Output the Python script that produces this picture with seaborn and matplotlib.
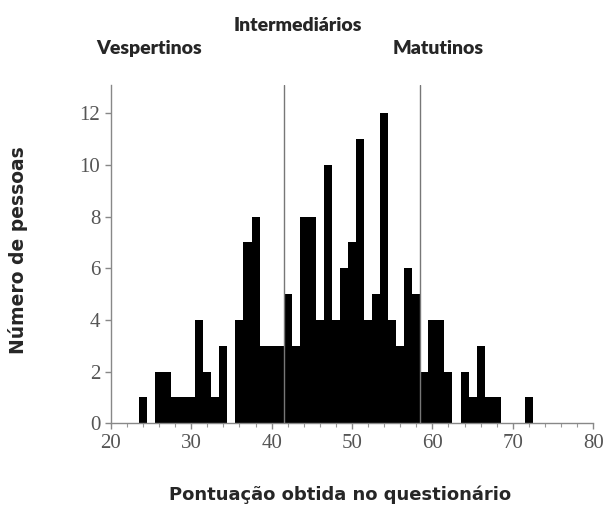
import numpy as np
import pandas as pd
import matplotlib
matplotlib.use('Agg')
import matplotlib.pyplot as plt
import seaborn as sns
from matplotlib.ticker import MultipleLocator

# Scores (questionnaire points) and number of people per score
scores = list(range(24, 73))
counts = [1, 0, 2, 2, 1, 1, 1, 4, 2, 1, 3, 0, 4, 7, 8, 3, 3, 3, 5, 3,
          8, 8, 4, 10, 4, 6, 7, 11, 4, 5, 12, 4, 3, 6, 5, 2, 4, 4, 2, 0,
          2, 1, 3, 1, 1, 0, 0, 0, 1]
cutoffs = [41.5, 58.5]
group_labels = ['Vespertinos', 'Intermediários', 'Matutinos']
group_x = [24.7, 43.2, 60.7]
group_y = [14.5, 15.4, 14.5]
x_ticks = [20, 30, 40, 50, 60, 70, 80]
y_ticks = [0, 2, 4, 6, 8, 10, 12]

df = pd.DataFrame({'score': scores, 'count': counts})

sns.set_style("white")
fig = plt.figure(figsize=(6.09, 5.08), dpi=100)
ax = fig.add_axes([0.182, 0.167, 0.792, 0.666])

sns.histplot(data=df, x='score', weights='count', discrete=True,
             color='black', edgecolor='none', alpha=1, ax=ax)

for c in cutoffs:
    ax.axvline(c, ymin=0, ymax=1, color='#777777', lw=1)

ax.set_xlim(20, 80)
ax.set_ylim(0, 13.1)
ax.set_xticks(x_ticks)
ax.set_yticks(y_ticks)
ax.xaxis.set_minor_locator(MultipleLocator(2))
ax.tick_params(axis='both', which='both', bottom=True, left=True)
ax.tick_params(axis='both', which='major', direction='out', length=4,
               width=1, color='#888888', labelcolor='#555555', labelsize=15)
ax.tick_params(axis='x', which='minor', direction='out', length=3,
               width=0.8, color='#999999')
for lab in ax.get_xticklabels() + ax.get_yticklabels():
    lab.set_family('Liberation Serif')

sns.despine(ax=ax, top=True, right=True)
for s in ['left', 'bottom']:
    ax.spines[s].set_color('#888888')
    ax.spines[s].set_linewidth(1)

for lab, gx, gy in zip(group_labels, group_x, group_y):
    ax.text(gx, gy, lab, ha='center', va='center', fontsize=14,
            fontweight='heavy', family='Lato', clip_on=False)

ax.set_xlabel('Pontuação obtida no questionário', fontsize=13,
              fontweight='bold', family='DejaVu Sans')
ax.xaxis.set_label_coords(0.475, -0.185)
ax.set_ylabel('Número de pessoas', fontsize=13.5, fontweight='bold',
              family='DejaVu Sans')
ax.yaxis.set_label_coords(-0.172, 0.51)

fig.savefig('out.png', dpi=100, facecolor='white')
